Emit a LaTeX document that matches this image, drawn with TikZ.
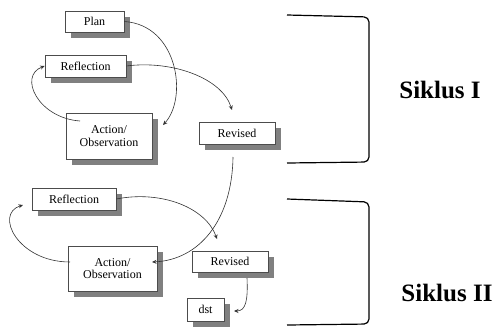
\documentclass[tikz,border=0pt]{standalone}
\usepackage{fontspec}
\setmainfont{Liberation Serif}
\usetikzlibrary{arrows.meta,shadows}
\begin{document}
\begin{tikzpicture}[x=1pt,y=-1pt,
 box/.style={draw=black!70, line width=0.6pt, fill=white, inner sep=0pt, align=center,
   font=\fontsize{12}{12.5}\selectfont,
   general shadow={fill=black!50, shadow xshift=6pt, shadow yshift=-6pt}},
 flow/.style={draw=black!80, line width=0.6pt, -{Stealth[length=4.5pt,width=4pt]}},
 bracket/.style={draw=black, line width=1.2pt, rounded corners=5pt},
 lbl/.style={font=\fontsize{25}{28}\selectfont\bfseries}]
\useasboundingbox (0,0) rectangle (500,327);

% Cycle I
\node[box, minimum width=59pt, minimum height=21pt] (plan) at (94.5,21.5) {Plan};
\node[box, minimum width=81pt, minimum height=22pt] (refl1) at (85.5,66) {Reflection};
\node[box, minimum width=86pt, minimum height=46pt] (act1) at (109,136) {Action/\\Observation};
\node[box, minimum width=76pt, minimum height=22pt] (rev1) at (237,133) {Revised};

% Cycle II
\node[box, minimum width=84pt, minimum height=22pt] (refl2) at (74,199) {Reflection};
\node[box, minimum width=89pt, minimum height=45pt] (act2) at (112.5,268.5) {Action/\\Observation};
\node[box, minimum width=76pt, minimum height=21pt] (rev2) at (230,261.5) {Revised};
\node[box, minimum width=37pt, minimum height=23pt] (dst) at (205.5,309.5) {dst};

% connector end points
\coordinate (a1in) at (163,125);
\coordinate (r1in) at (232,110);
\coordinate (a1out) at (80,121);
\coordinate (rv1out) at (233,157);
\coordinate (a2in) at (152,262);
\coordinate (r2in) at (217,239);
\coordinate (a2out) at (70,262);
\coordinate (rf2in) at (23,205);
\coordinate (rv2out) at (247,278);
\coordinate (dstin) at (234,311);

% connectors
\draw[flow] (plan.east) .. controls (178,25) and (188,98) .. (a1in);
\draw[flow] (refl1.east) .. controls (172,60) and (222,78) .. (r1in);
\draw[flow] (a1out) .. controls (38,118) and (18,76) .. (refl1.west);
\draw[flow] (rv1out) .. controls (232,222) and (198,260) .. (a2in);
\draw[flow] (refl2.east) .. controls (162,190) and (206,208) .. (r2in);
\draw[flow] (a2out) .. controls (18,262) and (-6,214) .. (rf2in);
\draw[flow] (rv2out) .. controls (248,300) and (246,311) .. (dstin);

% brackets
\coordinate (b1a) at (287,15);
\coordinate (b1b) at (369,17);
\coordinate (b1c) at (369,162);
\coordinate (b1d) at (287,163);
\draw[bracket] (b1a) -- (b1b) -- (b1c) -- (b1d);
\coordinate (b2a) at (287,199);
\coordinate (b2b) at (369,202);
\coordinate (b2c) at (369,324);
\coordinate (b2d) at (287,325);
\draw[bracket] (b2a) -- (b2b) -- (b2c) -- (b2d);

\node[lbl] (s1) at (440,90) {Siklus I};
\node[lbl] (s2) at (447,293) {Siklus II};
\end{tikzpicture}
\end{document}
